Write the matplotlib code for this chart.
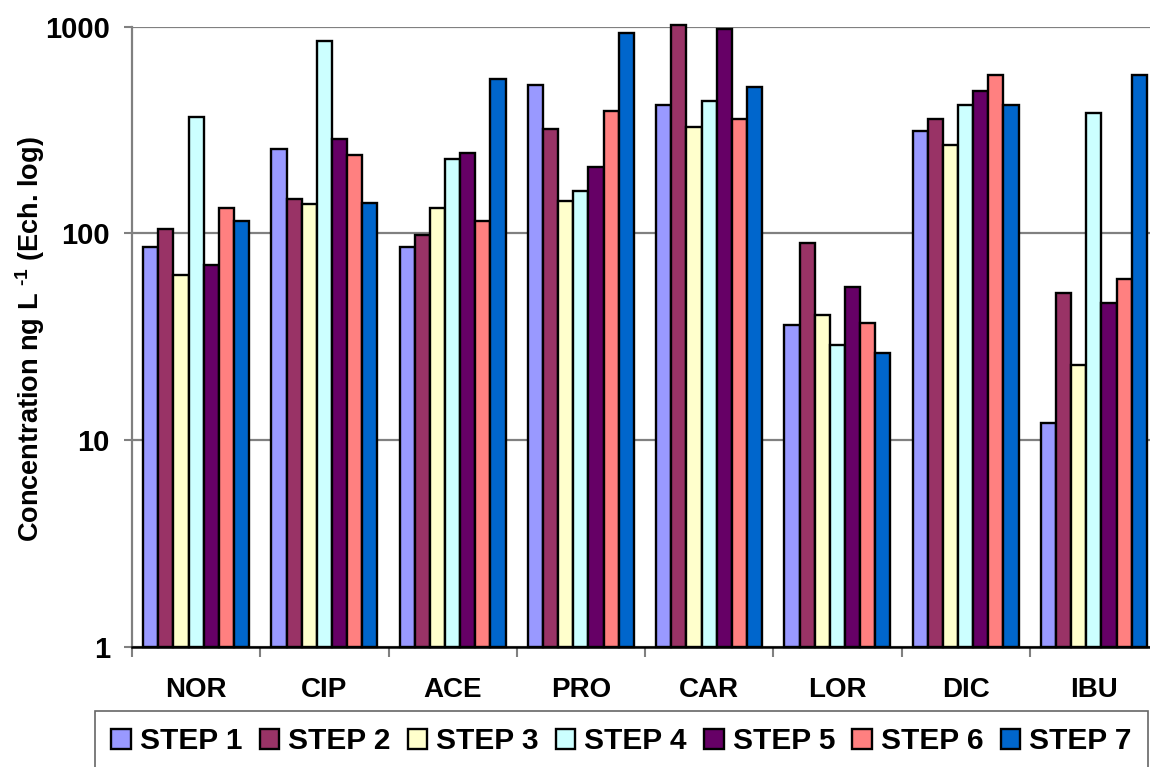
import numpy as np
import matplotlib
matplotlib.use("Agg")
import matplotlib.pyplot as plt

# Data (log scale)
compounds = ["NOR", "CIP", "ACE", "PRO", "CAR", "LOR", "DIC", "IBU"]
steps = ["STEP 1", "STEP 2", "STEP 3", "STEP 4", "STEP 5", "STEP 6", "STEP 7"]

step1 = [86, 256, 86, 522, 418, 36, 313, 12.1]
step2 = [105, 147, 98, 321, 1022, 90, 359, 51.5]
step3 = [63, 138, 132, 144, 327, 40.3, 268, 23.1]
step4 = [367, 856, 229, 161, 438, 28.8, 418, 384]
step5 = [70, 287, 246, 210, 975, 55, 490, 46]
step6 = [132, 240, 115, 392, 359, 37, 581, 60]
step7 = [115, 141, 560, 935, 511, 26.5, 418, 581]

colors = ["#9999FF", "#993366", "#FFFFCC", "#CCFFFF", "#660066", "#FF8080", "#0066CC"]

plt.rcParams["font.family"] = ["Liberation Sans", "DejaVu Sans"]
plt.rcParams["font.weight"] = "bold"
plt.rcParams["mathtext.fontset"] = "custom"
plt.rcParams["mathtext.rm"] = "Liberation Sans:bold"
plt.rcParams["mathtext.bf"] = "Liberation Sans:bold"


def main():
    fig = plt.figure(figsize=(11.5, 7.67), dpi=100)
    ax = fig.add_axes([132 / 1150, 1 - 646.7 / 767, 1026 / 1150, 620 / 767])

    all_series = [step1, step2, step3, step4, step5, step6, step7]
    x = np.arange(len(compounds))
    w = 0.118
    for i, (vals, col, lab) in enumerate(zip(all_series, colors, steps)):
        # bars start at the axis floor (1) so they stay inside the plot
        heights = np.asarray(vals) - 1
        ax.bar(x + (i - 3) * w, heights, bottom=1, width=w, color=col, edgecolor="black",
               linewidth=1.7, label=lab, zorder=3, clip_on=False)

    ax.set_yscale("log")
    ax.set_ylim(1, 1000)
    ax.set_xlim(-0.5, len(compounds) - 0.5)
    ax.set_yticks([1, 10, 100, 1000])
    ax.set_yticklabels(["1", "10", "100", "1000"])
    ax.yaxis.set_minor_locator(matplotlib.ticker.NullLocator())
    ax.grid(axis="y", color="#808080", linewidth=1.6, zorder=0)

    ax.set_xticks(x)
    ax.set_xticklabels(compounds)
    ax.set_xticks(np.arange(len(compounds) + 1) - 0.5, minor=True)
    ax.tick_params(axis="x", which="major", length=0, pad=22, labelsize=20)
    ax.tick_params(axis="x", which="minor", length=7, width=1.5, color="#808080")
    ax.tick_params(axis="y", which="major", length=6, width=1.5, color="#808080",
                   pad=10, labelsize=21)

    for side in ["top", "right"]:
        ax.spines[side].set_visible(False)
    ax.spines["left"].set_color("#808080")
    ax.spines["left"].set_linewidth(1.6)
    ax.spines["bottom"].set_color("black")
    ax.spines["bottom"].set_linewidth(1.8)
    ax.spines["bottom"].set_zorder(4)

    fig.text(30 / 1150, 1 - 339 / 767, "Concentration ng L $^{\u2010 1}$ (Ech. log)",
             rotation=90, ha="center", va="center", fontsize=19.5, fontweight="bold")

    leg = fig.legend(loc="upper left", bbox_to_anchor=(95 / 1150, 1 - 711 / 767, 1053 / 1150, 0.0),
                     mode="expand", ncol=7, fontsize=21.5, frameon=True, fancybox=False,
                     handlelength=0.65, handleheight=0.65, handletextpad=0.3,
                     borderpad=0.55, borderaxespad=0)
    leg.get_frame().set_edgecolor("#404040")
    leg.get_frame().set_linewidth(1.2)

    fig.savefig("out.png", dpi=100)


if __name__ == "__main__":
    main()
